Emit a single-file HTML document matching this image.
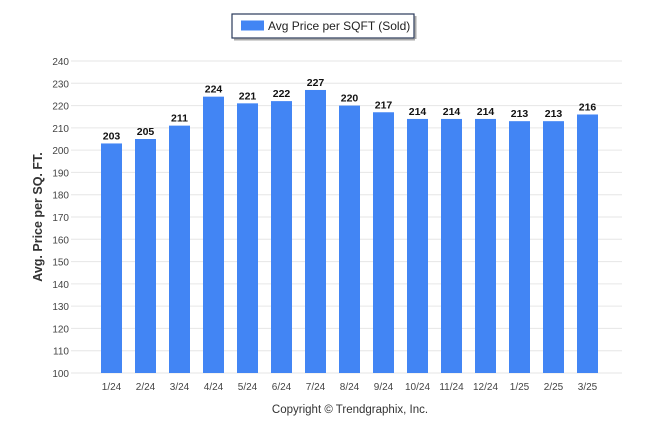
<!DOCTYPE html>
<html><head><meta charset="utf-8"><style>
body{margin:0;background:#fff;font-family:"Liberation Sans",sans-serif}
</style></head><body>
<svg id="c" width="646" height="434" style="display:block">
<rect x="232" y="14" width="182" height="24" fill="#fff" stroke="#2a3a5a" stroke-width="1.2"/>
<line x1="234" y1="39.5" x2="415" y2="39.5" stroke="#aaa" stroke-width="2"/>
<line x1="415.5" y1="16" x2="415.5" y2="39" stroke="#aaa" stroke-width="2"/>
<rect x="241" y="20.5" width="23" height="10" fill="#4285f4"/>
<text x="268" y="30" font-size="12" fill="#222">Avg Price per SQFT (Sold)</text>
<text transform="translate(42,217) rotate(-90)" text-anchor="middle" font-size="12.5" font-weight="bold" fill="#333">Avg. Price per SQ. FT.</text>
<text x="350" y="413" text-anchor="middle" font-size="11.5" fill="#333">Copyright © Trendgraphix, Inc.</text>
<g id="grid"></g><g id="bars"></g>
</svg>
<script>
const categories=["1/24","2/24","3/24","4/24","5/24","6/24","7/24","8/24","9/24","10/24","11/24","12/24","1/25","2/25","3/25"];
const values=[203,205,211,224,221,222,227,220,217,214,214,214,213,213,216];
const yTicks=[100,110,120,130,140,150,160,170,180,190,200,210,220,230,240];
const NS="http://www.w3.org/2000/svg";
const x0=94.5,band=34,yMin=100,yMax=240,yTop=61,yBot=373;
const y=v=>yBot-(v-yMin)/(yMax-yMin)*(yBot-yTop);
const xc=i=>x0+band*(i+0.5);
function mk(t,a,p){const e=document.createElementNS(NS,t);for(const k in a)e.setAttribute(k,a[k]);p.appendChild(e);return e;}
const g=document.getElementById('grid'),b=document.getElementById('bars');
yTicks.forEach(v=>{
 const l=mk('line',{x1:71,x2:622,y1:y(v),y2:y(v),stroke:'#e6e6e6','stroke-width':1},g);
 
 
 const t=mk('text',{x:69,y:y(v)+4,'text-anchor':'end','font-size':10,fill:'#444'},g);
 t.textContent=v;
 
 
});
categories.forEach((c,i)=>{
 const r=mk('rect',{x:xc(i)-10.5,y:y(values[i]),width:21,height:yBot-y(values[i]),fill:'#4285f4'},b);
 
 
 const v=mk('text',{x:xc(i),y:y(values[i])-4,'text-anchor':'middle','font-size':10.5,'font-weight':'bold',fill:'#111'},b);
 v.textContent=values[i];
 
 
 const t=mk('text',{x:xc(i),y:390,'text-anchor':'middle','font-size':10,fill:'#444'},b);
 t.textContent=c;
 
 
});
</script>
</body></html>
